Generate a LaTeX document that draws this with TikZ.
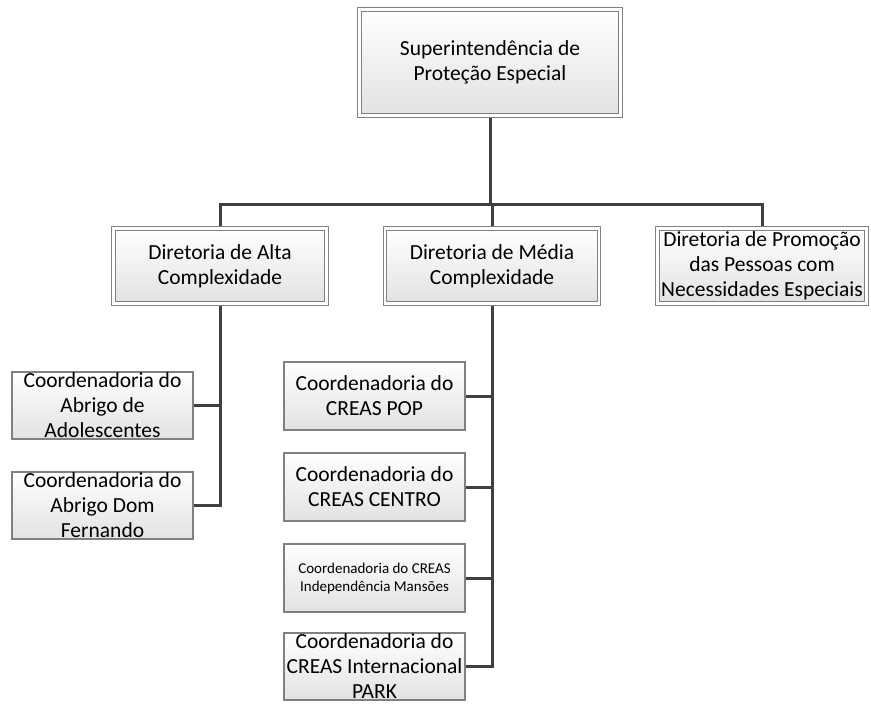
\documentclass[tikz,border=0pt]{standalone}
\usepackage{fontspec}
\setmainfont{Carlito}
\usetikzlibrary{calc,backgrounds}
\definecolor{ink}{HTML}{404040}
\definecolor{rim}{HTML}{808080}
\definecolor{shade}{HTML}{E2E2E2}
\tikzset{
  base/.style={align=center,inner sep=0pt,font=\fontsize{21.5}{25}\selectfont,top color=white,bottom color=shade,draw=rim,line width=1.2pt},
  head/.style={base,double=white,double distance=2.4pt,line width=0.9pt},
  coord/.style={base,minimum width=181pt,minimum height=67pt},
  small/.style={font=\fontsize{15}{18}\selectfont},
  link/.style={draw=ink,line width=3pt}
}
\begin{document}
\begin{tikzpicture}[x=1pt,y=-1pt]
\useasboundingbox (0,0) rectangle (871,704);

% top level
\node[head,minimum width=261pt,minimum height=106pt] (super) at (490,62.5) {Superintendência de\\Proteção Especial};
\coordinate (bus) at (0,204);

% diretorias
\node[head,minimum width=213pt,minimum height=75pt] (alta) at (220,266) {Diretoria de Alta\\Complexidade};
\node[head,minimum width=214pt,minimum height=75pt] (media) at (492,266) {Diretoria de Média\\Complexidade};
\node[head,minimum width=209pt,minimum height=75pt] (promo) at (762,266) {Diretoria de Promoção\\das Pessoas com\\Necessidades Especiais};

% coordenadorias (alta)
\node[coord] (adolesc) at (102.5,405.5) {Coordenadoria do\\Abrigo de\\Adolescentes};
\node[coord] (fernando) at (102.5,505.5) {Coordenadoria do\\Abrigo Dom\\Fernando};

% coordenadorias (media)
\node[coord,minimum height=68pt] (pop) at (374.5,396) {Coordenadoria do\\CREAS POP};
\node[coord,minimum height=68pt] (centro) at (374.5,487) {Coordenadoria do\\CREAS CENTRO};
\node[coord,small,minimum height=68pt] (mansoes) at (374.5,578) {Coordenadoria do CREAS\\Independência Mansões};
\node[coord] (park) at (374.5,666.5) {Coordenadoria do\\CREAS Internacional\\PARK};

\begin{scope}[on background layer]
\fill[white] (0,0) rectangle (871,704);
\draw[link] (super.south) -- (super.south |- bus);
\draw[link] (alta.north) -- (alta.north |- bus) -- (promo.north |- bus) -- (promo.north);
\draw[link] (media.north) -- (media.north |- bus);
\draw[link] (fernando.east) -| (alta.south);
\draw[link] (adolesc.east) -- (adolesc.east -| alta.south);
\draw[link] (park.east) -| (media.south);
\draw[link] (pop.east) -- (pop.east -| media.south);
\draw[link] (centro.east) -- (centro.east -| media.south);
\draw[link] (mansoes.east) -- (mansoes.east -| media.south);
\end{scope}
\end{tikzpicture}
\end{document}
